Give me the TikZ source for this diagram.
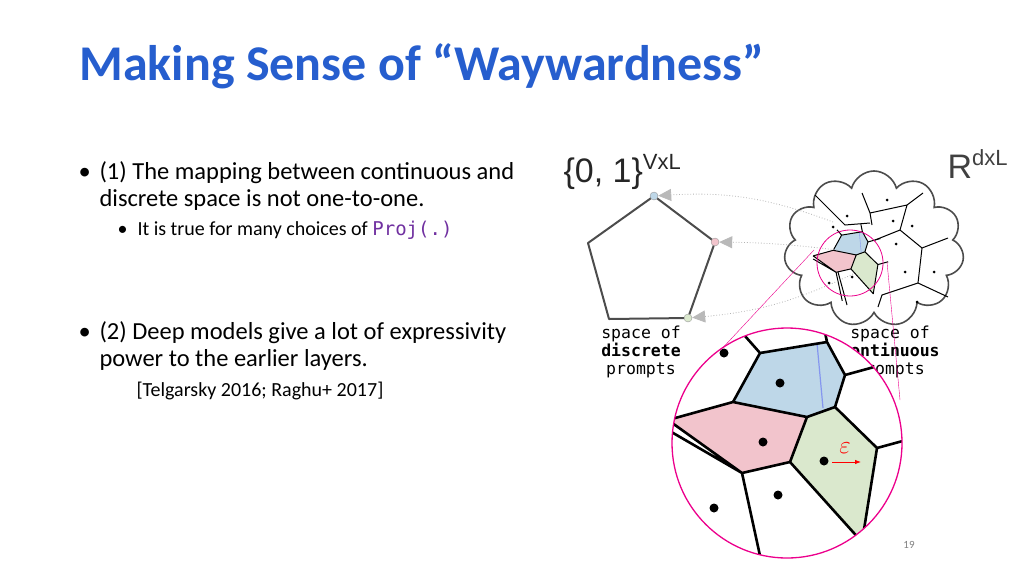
\documentclass[tikz,border=0pt]{standalone}
\usepackage{fontspec}
\setmainfont{Carlito}
\setsansfont{Liberation Sans}
\setmonofont{DejaVu Sans Mono}
\usetikzlibrary{arrows.meta,shapes.symbols,positioning,calc}
\definecolor{titleblue}{RGB}{38,94,206}
\definecolor{projpurple}{RGB}{112,48,160}
\definecolor{cellblue}{RGB}{190,215,232}
\definecolor{cellpink}{RGB}{242,196,204}
\definecolor{cellgreen}{RGB}{218,232,205}

% the voronoi cells around the magnified region
\newcommand{\cellpic}[2]{%
  \coordinate (b1) at (760,353); \coordinate (b2) at (827,342);
  \coordinate (b3) at (845,375); \coordinate (b4) at (835,407);
  \coordinate (b5) at (807,417); \coordinate (b6) at (733,402);
  \coordinate (p3) at (790,462); \coordinate (p4) at (742,473);
  \coordinate (p5) at (668,420); \coordinate (g3) at (877,448);
  \coordinate (g4) at (862,542);
  \fill[cellblue] (b1) -- (b2) -- (b3) -- (b4) -- (b5) -- (b6) -- cycle;
  \fill[cellpink] (b6) -- (b5) -- (p3) -- (p4) -- (p5) -- cycle;
  \fill[cellgreen] (b5) -- (b4) -- (g3) -- (g4) -- (p3) -- cycle;
  \draw[cellblue!70!blue,line width=#2] (817,343) -- (823,408);
  \draw[line width=#1,line join=round]
    (b1) -- (b2) -- (b3) -- (b4) -- (b5) -- (b6) -- cycle
    (b5) -- (p3) -- (p4) -- (p5) (b6) -- (p5)
    (b4) -- (g3) -- (g4) -- (p3)
    (b1) -- (745,336) (b2) -- (822,318) (b3) -- (885,364)
    (g3) -- (910,439) (p4) -- (762,565) (p4) -- (668,430);
}

\begin{document}
\begin{tikzpicture}[x=1pt,y=-1pt,
    bodytext/.style={anchor=base west,font=\fontsize{24.5}{24.5}\selectfont},
    subtext/.style={anchor=base west,font=\fontsize{20}{20}\selectfont},
    capt/.style={align=center,font=\ttfamily\fontsize{16.5}{18}\selectfont},
    vdot/.style={circle,draw=gray!80,fill=#1,inner sep=0pt,minimum size=8pt},
    proj/.style={draw=gray!60,dotted,thick,
      -{Triangle[fill=gray!55,color=gray!55,length=13pt,width=12pt]}},
    seed/.style={circle,fill=black,inner sep=0pt,minimum size=#1}]
  \useasboundingbox (0,0) rectangle (1024,576);

  \node[anchor=base west,text=titleblue,font=\bfseries\fontsize{50}{50}\selectfont]
    (title) at (76,80) {Making Sense of “Waywardness”};

  % left column
  \node[bodytext] (b1) at (75,179) {•};
  \node[bodytext] (t1a) at (96,179) {(1) The mapping between continuous and};
  \node[bodytext] (t1b) at (96,206) {discrete space is not one-to-one.};
  \node[subtext] (b1s) at (114,235) {•};
  \node[subtext] (t1c) at (134,235) {It is true for many choices of \textcolor{projpurple}{\ttfamily\fontsize{19}{19}\selectfont Proj(.)}};
  \node[bodytext] (b2) at (75,339) {•};
  \node[bodytext] (t2a) at (96,339) {(2) Deep models give a lot of expressivity};
  \node[bodytext] (t2b) at (96,366) {power to the earlier layers.};
  \node[subtext] (t2c) at (133,396) {[Telgarsky 2016; Raghu+ 2017]};

  % spaces
  \node[anchor=base west,font=\sffamily\fontsize{34}{34}\selectfont,text=black!85]
    (vxl) at (560,182) {\{0, 1\}\raisebox{13pt}{\fontsize{22}{22}\selectfont VxL}};
  \node[anchor=base west,font=\sffamily\fontsize{34}{34}\selectfont,text=black!75]
    (rdxl) at (944,178) {R\raisebox{13pt}{\fontsize{22}{22}\selectfont dxL}};

  \draw[black!70,line width=2pt,line join=round]
    (654,196) -- (715,242) -- (688,318) -- (609,319) -- (588,243) -- cycle;
  \node[capt] (dcap) at (641,352) {space of\\\textbf{discrete}\\prompts};
  \node[capt] (ccap) at (890,352) {space of\\\textbf{continuous}\\prompts};

  \node[cloud,cloud puffs=11,draw=black!70,line width=1.6pt,fill=white,
    minimum width=180,minimum height=156] (cloud) at (874,249) {};

  % cells inside the cloud
  \begin{scope}[shift={(850,263)},scale=0.31,shift={(-787,-443)}]
    \cellpic{1pt}{0.4pt}
  \end{scope}
  \draw[line width=1pt]
    (815,195) -- (845,225) -- (870,223) (862,193) -- (870,213) -- (907,205) -- (923,193)
    (907,205) -- (900,230) -- (922,248) -- (948,238) (922,248) -- (918,283) -- (948,297)
    (918,283) -- (882,295) -- (878,307) (900,230) -- (875,240) (838,272) -- (847,305)
    (870,213) -- (872,225);
  \foreach \px/\py in {887/200,847/216,893/221,912/226,896/244,905/272,934/272,
      917/302,829/283,852/277,833/227}
    \node[seed=3pt] at (\px,\py) {};

  \node[vdot=cellblue] (vtop) at (654,196) {};
  \node[vdot=cellpink] (vright) at (715,242) {};
  \node[vdot=cellgreen] (vbot) at (688,318) {};
  \coordinate (stop) at (833,222);
  \coordinate (spink) at (837,250);
  \coordinate (sgreen) at (853,274);
  \draw[proj] (stop) to[bend right=12] (vtop);
  \draw[proj] (spink) to[bend right=3] (vright);
  \draw[proj] (sgreen) to[bend left=10] (vbot);

  % magnifier
  \node[circle,draw=magenta,thick,minimum size=66pt,inner sep=0pt] (small) at (850,263) {};
  \coordinate (bigc) at (787,443);
  \draw[magenta,thin] (814,250) -- (717,354) (887,262) -- (900,400);
  \fill[white] (bigc) circle (115);
  \begin{scope}
    \clip (bigc) circle (115);
    \cellpic{2.6pt}{1.2pt}
    \foreach \px/\py in {780/383,763/442,824/461,778/495,714/508,724/353}
      \node[seed=9pt] at (\px,\py) {};
  \end{scope}
  \node[circle,draw=magenta,line width=1.3pt,minimum size=230pt,inner sep=0pt] (big) at (bigc) {};
  \node[text=red,font=\fontsize{24}{24}\selectfont] (eps) at (845,448) {$\varepsilon$};
  \coordinate (ea) at (832,462);
  \coordinate (eb) at (861,462);
  \draw[red,thick,-{Latex[length=6pt]}] (ea) -- (eb);

  \node[text=gray,font=\fontsize{11}{11}\selectfont] (page) at (909,545) {19};
\end{tikzpicture}
\end{document}
